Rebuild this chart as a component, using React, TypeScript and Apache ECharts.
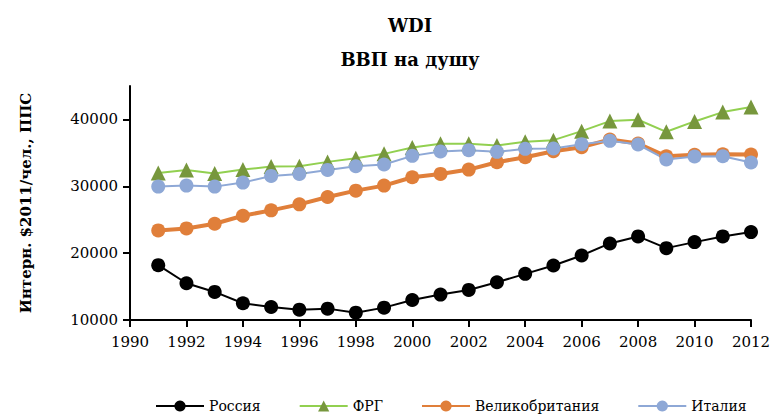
import React, { useEffect, useRef } from "react";
import * as echarts from "echarts";

const years = [1991, 1992, 1993, 1994, 1995, 1996, 1997, 1998, 1999, 2000, 2001, 2002, 2003, 2004, 2005, 2006, 2007, 2008, 2009, 2010, 2011, 2012];
const russia = [18200, 15500, 14200, 12500, 11950, 11550, 11700, 11100, 11850, 13000, 13800, 14500, 15650, 16900, 18150, 19650, 21450, 22500, 20750, 21650, 22500, 23150];
const germany = [32000, 32450, 31900, 32500, 32950, 33000, 33650, 34200, 34850, 35800, 36350, 36350, 36100, 36650, 36900, 38250, 39750, 39950, 38150, 39700, 41100, 41850];
const uk = [23400, 23700, 24400, 25600, 26400, 27300, 28400, 29350, 30100, 31350, 31850, 32500, 33600, 34350, 35250, 35850, 37000, 36400, 34500, 34700, 34800, 34750];
const italy = [29950, 30100, 29950, 30550, 31550, 31850, 32450, 33000, 33250, 34550, 35200, 35400, 35150, 35600, 35650, 36300, 36800, 36250, 34000, 34450, 34500, 33550];

const seriesNames = ["Россия", "ФРГ", "Великобритания", "Италия"];
const titleLines = ["WDI", "ВВП на душу"];
const yAxisName = "Интерн. $2011/чел., ППС";

const FONT = "DejaVu Serif";

function pairs(vals: number[]) {
  return years.map((y, i) => [y, vals[i]]);
}

export default function App() {
  const ref = useRef<HTMLDivElement>(null);
  useEffect(() => {
    if (!ref.current) return;
    const chart = echarts.init(ref.current, undefined, { renderer: "svg" });
    chart.setOption({
      animation: false,
      backgroundColor: "#ffffff",
      textStyle: { fontFamily: FONT },
      title: {
        text: titleLines.join("\n"),
        left: 405,
        textAlign: "center",
        top: 3,
        textStyle: { fontFamily: FONT, fontWeight: "bold", fontSize: 18, lineHeight: 34, color: "#000" },
      },
      legend: {
        left: 150,
        top: 394,
        itemWidth: 48,
        itemHeight: 14,
        itemGap: 38,
        textStyle: { fontFamily: FONT, fontSize: 14, color: "#000" },
        data: seriesNames,
      },
      grid: { left: 130, right: 24, top: 86, bottom: 96, containLabel: false },
      xAxis: {
        type: "value",
        min: 1990,
        max: 2012,
        interval: 2,
        axisLine: { lineStyle: { color: "#000", width: 2 } },
        axisTick: { show: true, length: 7, lineStyle: { color: "#000", width: 2 } },
        axisLabel: { color: "#000", fontSize: 15, fontFamily: FONT, margin: 14, formatter: (v: number) => String(v) },
        splitLine: { show: false },
      },
      yAxis: {
        type: "value",
        min: 10000,
        max: 45000,
        interval: 10000,
        name: yAxisName,
        nameLocation: "middle",
        nameGap: 97,
        nameTextStyle: { fontFamily: FONT, fontWeight: "bold", fontSize: 15, color: "#000" },
        axisLine: { show: true, lineStyle: { color: "#000", width: 2 } },
        axisTick: { show: true, length: 7, lineStyle: { color: "#000", width: 2 } },
        axisLabel: { color: "#000", fontSize: 15, fontFamily: FONT, margin: 12, showMaxLabel: false, formatter: (v: number) => String(v) },
        splitLine: { show: false },
      },
      series: [
        {
          name: seriesNames[0],
          type: "line",
          data: pairs(russia),
          symbol: "circle",
          symbolSize: 14,
          lineStyle: { color: "#000000", width: 2 },
          itemStyle: { color: "#000000" },
        },
        {
          name: seriesNames[1],
          type: "line",
          data: pairs(germany),
          symbol: "triangle",
          symbolSize: 15,
          lineStyle: { color: "#92D050", width: 2 },
          itemStyle: { color: "#77973D" },
        },
        {
          name: seriesNames[2],
          type: "line",
          data: pairs(uk),
          symbol: "circle",
          symbolSize: 14,
          lineStyle: { color: "#E07F3A", width: 4 },
          itemStyle: { color: "#E07F3A" },
        },
        {
          name: seriesNames[3],
          type: "line",
          data: pairs(italy),
          symbol: "circle",
          symbolSize: 14,
          lineStyle: { color: "#8EA8D6", width: 2 },
          itemStyle: { color: "#8EA8D6" },
        },
      ],
    });
    return () => chart.dispose();
  }, []);
  return <div ref={ref} style={{ width: 775, height: 416, position: "absolute", left: 0, top: 0 }} />;
}
